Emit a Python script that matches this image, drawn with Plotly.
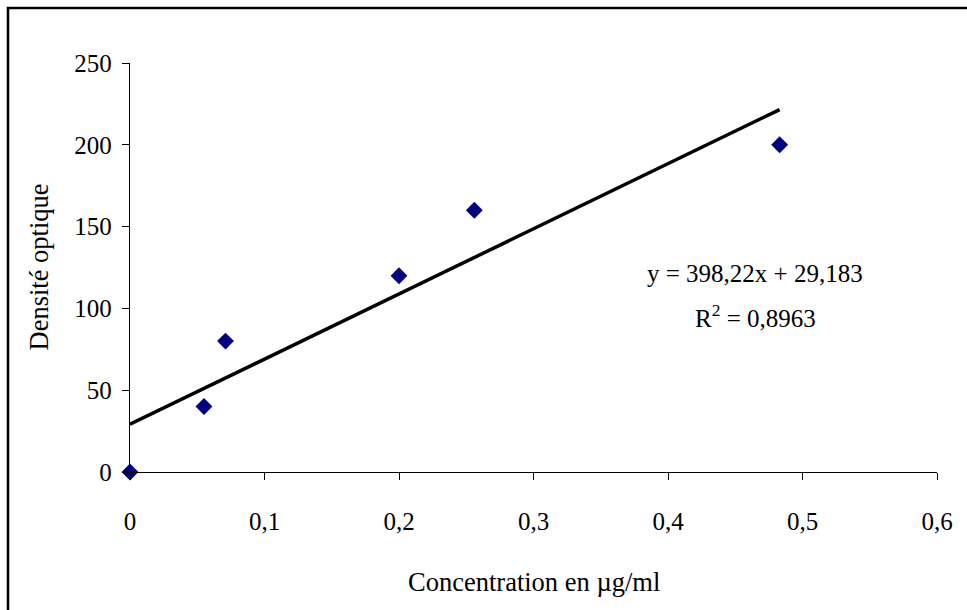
import plotly.graph_objects as go

# Data
concentration = [0, 0.055, 0.071, 0.2, 0.256, 0.483]
densite = [0, 40, 80, 120, 160, 200]

# Trendline coefficients (as displayed)
slope = 398.22
intercept = 29.183
r2 = 0.8963

x_ticks = [0, 0.1, 0.2, 0.3, 0.4, 0.5, 0.6]
x_tick_labels = ["0", "0,1", "0,2", "0,3", "0,4", "0,5", "0,6"]
y_ticks = [0, 50, 100, 150, 200, 250]
y_tick_labels = ["0", "50", "100", "150", "200", "250"]

FONT = "Liberation Serif, Times New Roman, serif"

trend_x = [0, max(concentration)]
trend_y = [slope * v + intercept for v in trend_x]

fig = go.Figure()
fig.add_trace(go.Scatter(
    x=trend_x, y=trend_y, mode="lines",
    line=dict(color="black", width=3.5),
    hoverinfo="skip", showlegend=False,
))
fig.add_trace(go.Scatter(
    x=concentration, y=densite, mode="markers",
    marker=dict(symbol="diamond", size=13, color="#000080", line=dict(width=0)),
    showlegend=False, cliponaxis=False,
))

fig.update_layout(
    width=967, height=610,
    margin=dict(l=130, r=30, t=63, b=138),
    paper_bgcolor="white", plot_bgcolor="white",
    font=dict(family=FONT, size=25, color="black"),
    xaxis=dict(
        range=[0, 0.6], tickvals=x_ticks, ticktext=x_tick_labels,
        showgrid=False, zeroline=False, showline=True, linecolor="black", linewidth=1.3,
        ticks="outside", ticklen=7, tickcolor="black", tickwidth=1.3,
        ticklabelstandoff=20, tickfont=dict(family=FONT, size=25),
    ),
    yaxis=dict(
        range=[0, 250], tickvals=y_ticks, ticktext=y_tick_labels,
        showgrid=False, zeroline=False, showline=True, linecolor="black", linewidth=1.3,
        ticks="outside", ticklen=7, tickcolor="black", tickwidth=1.3,
        ticklabelstandoff=5, tickfont=dict(family=FONT, size=25),
    ),
    shapes=[dict(
        type="rect", xref="paper", yref="paper",
        x0=(8 - 130) / 807, x1=1.2, y0=-0.6, y1=1 + (63 - 8) / 409,
        line=dict(color="black", width=2.5), fillcolor="rgba(0,0,0,0)", layer="below",
    )],
    annotations=[
        dict(text="Concentration en µg/ml", xref="paper", yref="paper",
             x=0.5, y=(472 - 582) / 409, showarrow=False,
             font=dict(family=FONT, size=26.5), xanchor="center", yanchor="middle"),
        dict(text="Densité optique", xref="paper", yref="paper",
             x=(38 - 130) / 807, y=0.5, showarrow=False, textangle=-90,
             font=dict(family=FONT, size=26.5), xanchor="center", yanchor="middle"),
        dict(text="y = %sx + %s" % (f"{slope:.2f}".replace(".", ","), f"{intercept:.3f}".replace(".", ",")),
             xref="paper", yref="paper",
             x=(755 - 130) / 807, y=(472 - 273) / 409, showarrow=False,
             font=dict(family=FONT, size=25), xanchor="center", yanchor="middle"),
        dict(text="R<sup>2</sup> = %s" % f"{r2:.4f}".replace(".", ","),
             xref="paper", yref="paper",
             x=(755 - 130) / 807, y=(472 - 316) / 409, showarrow=False,
             font=dict(family=FONT, size=25), xanchor="center", yanchor="middle"),
    ],
)

fig.write_html("out.html")
